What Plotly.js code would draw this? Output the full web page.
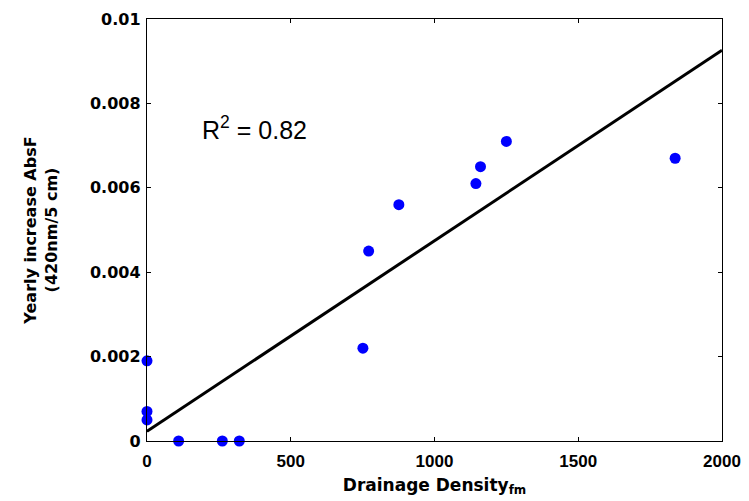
<!DOCTYPE html>
<html>
<head>
<meta charset="utf-8">
<script src="https://cdn.plot.ly/plotly-3.0.1.min.js"></script>
<style>html,body{margin:0;padding:0;background:#fff;}#chart{width:749px;height:501px;}</style>
</head>
<body>
<div id="chart"></div>
<script>
// Observed data points
var drainageDensity = [0, 0, 0, 110, 262, 321, 751, 771, 876, 1144, 1160, 1250, 1837];
var yearlyIncrease = [0.0019, 0.0007, 0.0005, 0, 0, 0, 0.0022, 0.0045, 0.0056, 0.0061, 0.0065, 0.0071, 0.0067];
// Fitted regression line end points
var fitX = [0, 2000];
var fitY = [0.00023, 0.00926];
// Ticks
var xTicks = [0, 500, 1000, 1500, 2000];
var xTickText = ["0", "500", "1000", "1500", "2000"];
var yTicks = [0, 0.002, 0.004, 0.006, 0.008, 0.01];
var yTickText = ["0", "0.002", "0.004", "0.006", "0.008", "0.01"];

function bold(a) { return a.map(function (s) { return "<b>" + s + "</b>"; }); }

var traces = [
  {x: fitX, y: fitY, mode: "lines", type: "scatter", line: {color: "#000", width: 3}, hoverinfo: "skip"},
  {x: drainageDensity, y: yearlyIncrease, mode: "markers", type: "scatter", marker: {color: "#0000ff", size: 11}, cliponaxis: false}
];

var layout = {
  width: 749, height: 501,
  margin: {l: 146.5, r: 26.5, t: 18.5, b: 59.5},
  paper_bgcolor: "#fff", plot_bgcolor: "#fff",
  showlegend: false,
  font: {family: "Liberation Sans, Arial, sans-serif", color: "#000"},
  xaxis: {
    range: [0, 2000], tickvals: xTicks, ticktext: bold(xTickText),
    ticks: "inside", ticklen: 4, tickcolor: "#000", mirror: "ticks",
    showline: true, linecolor: "#000", linewidth: 1.2,
    showgrid: false, zeroline: false, ticklabelstandoff: 4,
    tickfont: {family: "Liberation Sans, Arial, sans-serif", size: 17, color: "#000"},
    title: {text: "<b>Drainage Density<sub>fm</sub></b>", font: {family: "DejaVu Sans", size: 17, color: "#000"}, standoff: 9}
  },
  yaxis: {
    range: [0, 0.01], tickvals: yTicks, ticktext: bold(yTickText),
    ticks: "inside", ticklen: 4, tickcolor: "#000", mirror: "ticks",
    showline: true, linecolor: "#000", linewidth: 1.2,
    showgrid: false, zeroline: false, ticklabelstandoff: 2,
    tickfont: {family: "DejaVu Sans", size: 16, color: "#000"},
    title: {text: "<b>Yearly increase AbsF<br>(420nm/5 cm)</b>", font: {family: "DejaVu Sans", size: 16, color: "#000"}, standoff: 28}
  },
  annotations: [{
    x: 373, y: 0.00741, xref: "x", yref: "y",
    text: "R<sup>2</sup> = 0.82", showarrow: false,
    font: {family: "Liberation Sans, Arial, sans-serif", size: 25, color: "#000"}
  }]
};

Plotly.newPlot("chart", traces, layout, {displayModeBar: false, staticPlot: true});
</script>
</body>
</html>
